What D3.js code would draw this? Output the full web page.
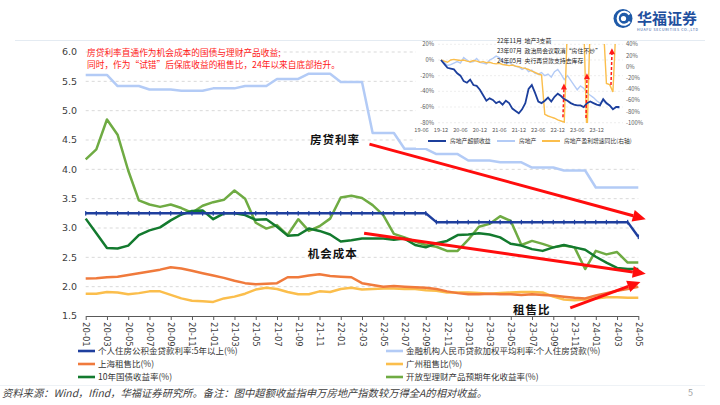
<!DOCTYPE html>
<html><head><meta charset="utf-8">
<script src="https://cdn.jsdelivr.net/npm/d3@7"></script>
<style>
body{margin:0;background:#fff;}
svg{display:block;font-family:"Noto Sans CJK SC","Noto Sans",sans-serif;}
</style></head><body>
<svg id="c" width="720" height="405"></svg>
<script>
// ---------- main chart data ----------
const months = ["20-01","20-02","20-03","20-04","20-05","20-06","20-07","20-08","20-09","20-10","20-11","20-12",
"21-01","21-02","21-03","21-04","21-05","21-06","21-07","21-08","21-09","21-10","21-11","21-12",
"22-01","22-02","22-03","22-04","22-05","22-06","22-07","22-08","22-09","22-10","22-11","22-12",
"23-01","23-02","23-03","23-04","23-05","23-06","23-07","23-08","23-09","23-10","23-11","23-12",
"24-01","24-02","24-03","24-04","24-05"];
const yTicks = [1.5,2.0,2.5,3.0,3.5,4.0,4.5,5.0,5.5,6.0];

const gjjRate = [3.25,3.25,3.25,3.25,3.25,3.25,3.25,3.25,3.25,3.25,3.25,3.25,3.25,3.25,3.25,3.25,3.25,3.25,3.25,3.25,3.25,3.25,3.25,3.25,3.25,3.25,3.25,3.25,3.25,3.25,3.25,3.25,3.25,
3.1,3.1,3.1,3.1,3.1,3.1,3.1,3.1,3.1,3.1,3.1,3.1,3.1,3.1,3.1,3.1,3.1,3.1,3.1,2.85];
const mortgageRate = [5.61,5.61,5.61,5.42,5.42,5.42,5.36,5.36,5.36,5.34,5.34,5.34,5.38,5.38,5.38,5.42,5.42,5.42,
5.54,5.54,5.54,5.63,5.63,5.63,5.49,5.49,5.49,4.62,4.62,4.62,4.35,4.35,4.35,4.26,4.26,4.26,4.15,4.15,4.15,
4.12,4.12,4.12,4.03,4.03,4.03,3.98,3.98,3.98,3.69,3.69,3.69,3.69,3.69];
const shRatio = [2.14,2.145,2.16,2.17,2.20,2.23,2.26,2.29,2.33,2.31,2.27,2.23,2.19,2.15,2.10,2.06,2.04,2.05,2.06,2.16,2.16,2.19,2.21,2.18,2.17,2.16,2.06,2.03,2.00,
2.01,2.00,1.99,1.98,1.96,1.92,1.89,1.87,1.87,1.88,1.87,1.87,1.86,1.87,1.86,1.85,1.83,1.81,1.80,1.85,1.89,1.93,1.96,2.00];
const gzRatio = [1.88,1.88,1.91,1.90,1.87,1.89,1.92,1.92,1.86,1.80,1.76,1.75,1.74,1.80,1.83,1.88,1.95,1.98,1.96,1.91,1.87,1.87,1.92,1.91,1.96,1.98,1.95,1.96,1.97,
1.97,1.96,1.96,1.94,1.93,1.90,1.90,1.90,1.89,1.88,1.89,1.90,1.91,1.91,1.90,1.83,1.78,1.77,1.78,1.80,1.82,1.82,1.81,1.81];
const cgb10y = [3.16,2.91,2.66,2.65,2.70,2.88,2.96,3.01,3.13,3.23,3.29,3.30,3.15,3.25,3.25,3.22,3.14,3.15,3.02,2.87,2.88,2.99,2.95,2.89,2.77,2.79,
2.82,2.82,2.82,2.80,2.82,2.71,2.67,2.74,2.78,2.88,2.89,2.91,2.89,2.84,2.73,2.70,2.64,2.61,2.67,2.71,2.67,2.63,2.51,2.41,2.32,2.30,2.30];
const wmpYield = [4.17,4.34,4.85,4.59,3.98,3.47,3.40,3.36,3.40,3.34,3.26,3.38,3.44,3.48,3.64,3.50,3.09,2.99,3.05,2.88,3.15,2.95,3.03,3.16,3.52,3.55,3.51,3.39,3.22,
2.90,2.84,2.77,2.71,2.68,2.61,2.61,2.80,3.02,3.07,3.20,3.12,2.71,2.78,2.73,2.67,2.70,2.67,2.30,2.61,2.55,2.59,2.41,2.41];

const seriesNames = ["个人住房公积金贷款利率:5年以上(%)","上海租售比(%)","10年国债收益率(%)",
"金融机构人民币贷款加权平均利率:个人住房贷款(%)","广州租售比(%)","开放型理财产品预期年化收益率(%)"];
const seriesColors = ["#1f3f9e","#f07a3c","#137a2e","#b3cbf6","#fbbe4c","#6fab43"];

// annotation arrows (month index, value)
const trendArrows = [[26.7,4.43,52.7,3.15],[26.2,2.91,52.7,2.22],[45.6,1.64,52.2,2.08]];
const trendLabels = [["房贷利率",21.1,4.5],["机会成本",20.9,2.55],["租售比",40.2,1.60]];
const noteLines = ["房贷利率直通作为机会成本的国债与理财产品收益;","同时，作为“试错”后保底收益的租售比，24年以来自底部抬升。"];

// ---------- inset data (months since 2019-12) ----------
const insetTickLabels = ["19-06","19-12","20-06","20-12","21-06","21-12","22-06","22-12","23-06","23-12"];
const insetTickMonths = [-6,0,6,12,18,24,30,36,42,48];
const insetLeftTicks = [20,0,-20,-40,-60,-80];
const insetRightTicks = [40,20,0,-20,-40,-60,-80,-100];
const excessRet = [0,-5,-10,-11,-12,-17,-20,-27,-29,-25,-32,-33,-38,-45,-52,-49,-51,-55,-53,-57,-52,-55,-62,-65,-68,-63,-55,-37,-32,-42,-53,-55,-52,-48,-53,-47,-43,-46,-50,-52,-55,-57,-58,-58,-60,-55,-53,-55,-57,-58,-50,-55,-58,-63,-60,-60];
const realEstate = [0,-3,-7,-6,-4,-2,-4,3,0,-3,-2,2,-3,-4,-5,0,2,5,3,-2,-5,-3,-6,-8,-9,-12,-10,-15,-13,-17,-18,-16,-20,-18,-22,-15,-12,-18,-25,-20,-26,-32,-38,-33,-36,-42,-45,-48,-52,-55,-52,-56,-58,-62,-60,-62];
const profitYoY = [12,10,8,12,13,12,11,12,10,9,11,10,8,9,7,8,6,5,6,4,3,2,3,1,0,-2,-3,-5,-8,-10,-13,-15,-85,-88,-90,-92,-95,-97,-99,80,80,80,80,80,80,-130,80,80,80,80,80,-30,-32,-45,80,80];
const insetNames = ["房地产超额收益","房地产","房地产盈利增速同比(右轴)"];
const insetColors = ["#1c3f9c","#b3cbf6","#fbbe4c"];
const insetNotes = ["22年11月  地产3支箭","23年07月  政治局会议取消“房住不炒”","24年05月  央行再贷款支持去库存"];
const insetArrows = [[37.6,-73,37.9,-30],[44.7,-74,45.0,-17],[52.4,-32,52.7,15]];

// ---------- drawing ----------
const svg = d3.select("#c");
const x = d3.scaleLinear().domain([0, months.length-1]).range([85.7, 638.3]);
const y = d3.scaleLinear().domain([1.5, 6.0]).range([316, 52]);

// header
svg.append("line").attr("x1",15).attr("x2",705).attr("y1",40.5).attr("y2",40.5).attr("stroke","#e4ebf2").attr("stroke-width",1);
const logo = svg.append("g");
logo.append("circle").attr("cx",623).attr("cy",18.5).attr("r",9.5).attr("fill","#1f5aa8");
logo.append("path").attr("d","M629.5,14.5 A6.5,6.5 0 1 0 629.8,21.5").attr("fill","none").attr("stroke","#fff").attr("stroke-width",2.2);
logo.append("circle").attr("cx",623.5).attr("cy",18.5).attr("r",2.6).attr("fill","#fff");
svg.append("text").attr("x",637).attr("y",24).attr("font-size",15).attr("font-weight",700).attr("fill","#1f4f9e").text("华福证券");
svg.append("text").attr("x",637).attr("y",30.5).attr("font-size",3.6).attr("fill","#1f4f9e").attr("textLength",61).text("HUAFU SECURITIES CO.,LTD");

// gridlines
svg.append("g").selectAll("line").data(yTicks.filter(d=>d>1.5)).join("line")
  .attr("x1",x(0)).attr("x2",x(months.length-1)).attr("y1",d=>y(d)).attr("y2",d=>y(d))
  .attr("stroke","#d9d9d9").attr("stroke-width",1).attr("stroke-dasharray","3,3");

// y labels
svg.append("g").selectAll("text").data(yTicks).join("text")
  .attr("x",77).attr("y",d=>y(d)).attr("dy","0.35em").attr("text-anchor","end")
  .attr("font-size",9.5).attr("fill","#404040").attr("font-family","'DejaVu Sans',sans-serif")
  .text(d=>d.toFixed(1));

// x axis
const xAxis = d3.axisBottom(x).tickValues(d3.range(0, months.length, 2)).tickFormat(i=>months[i]).tickSize(4).tickSizeOuter(0);
const gx = svg.append("g").attr("transform",`translate(0,${y(1.5)})`).call(xAxis);
gx.select(".domain").attr("stroke","#595959");
gx.selectAll(".tick line").attr("stroke","#595959");
gx.selectAll(".tick text").attr("transform","rotate(90)").attr("x",6).attr("y",0).attr("dy","0.35em")
  .style("text-anchor","start").attr("font-size",8.5).attr("fill","#404040").attr("font-family","'DejaVu Sans',sans-serif");

// lines
const line = d3.line().x((d,i)=>x(i)).y(d=>y(d));
const allSeries = [mortgageRate, gzRatio, shRatio, wmpYield, cgb10y, gjjRate];
const allColors = [seriesColors[3], seriesColors[4], seriesColors[1], seriesColors[5], seriesColors[2], seriesColors[0]];
allSeries.forEach((s,k)=>{
  svg.append("path").datum(s).attr("d",line).attr("fill","none").attr("stroke",allColors[k])
    .attr("stroke-width",2.5).attr("stroke-linejoin","round");
});
svg.append("g").selectAll("rect").data(gjjRate).join("rect")
  .attr("x",(d,i)=>x(i)-0.6).attr("y",d=>y(d)-2.3).attr("width",1.2).attr("height",4.6).attr("fill",seriesColors[0]);

// note text
svg.append("g").selectAll("text").data(noteLines).join("text")
  .attr("x",87).attr("y",(d,i)=>55.5+i*12).attr("font-size",8.7).attr("fill","#ff2020").text(d=>d);

// inset
const inset = svg.append("g");
inset.append("rect").attr("x",416).attr("y",42).attr("width",228).attr("height",106).attr("fill","#fff");
const ix = d3.scaleLinear().domain([-6,48]).range([421.5,596.7]);
const iyL = d3.scaleLinear().domain([-80,20]).range([122.7,44.3]);
const iyR = d3.scaleLinear().domain([-100,40]).range([122.7,44.3]);
inset.append("g").selectAll("line").data(insetLeftTicks).join("line")
  .attr("x1",438).attr("x2",623).attr("y1",d=>iyL(d)).attr("y2",d=>iyL(d))
  .attr("stroke","#e2e2e2").attr("stroke-width",0.6).attr("stroke-dasharray","2,2");
inset.append("g").selectAll("text").data(insetLeftTicks).join("text")
  .attr("x",434).attr("y",d=>iyL(d)).attr("dy","0.35em").attr("text-anchor","end")
  .attr("font-size",5.8).attr("fill","#595959").text(d=>d+"%");
inset.append("g").selectAll("text").data(insetRightTicks).join("text")
  .attr("x",626).attr("y",d=>iyR(d)).attr("dy","0.35em").attr("text-anchor","start")
  .attr("font-size",5.8).attr("fill","#595959").text(d=>d+"%");
inset.append("g").selectAll("text").data(insetTickLabels).join("text")
  .attr("x",(d,i)=>ix(insetTickMonths[i])).attr("y",131.5).attr("text-anchor","middle")
  .attr("font-size",5.6).attr("fill","#595959").text(d=>d);
svg.append("defs").append("clipPath").attr("id","ic").append("rect").attr("x",436).attr("y",44).attr("width",190).attr("height",79);
const ilineL = d3.line().x((d,i)=>ix(i)).y(d=>iyL(d));
const ilineR = d3.line().x((d,i)=>ix(i)).y(d=>iyR(d));
const ip = inset.append("g").attr("clip-path","url(#ic)");
ip.append("path").datum(realEstate).attr("d",ilineL).attr("fill","none").attr("stroke",insetColors[1]).attr("stroke-width",1.4);
ip.append("path").datum(profitYoY).attr("d",ilineR).attr("fill","none").attr("stroke",insetColors[2]).attr("stroke-width",1.4);
ip.append("path").datum(excessRet).attr("d",ilineL).attr("fill","none").attr("stroke",insetColors[0]).attr("stroke-width",1.8);
// inset notes
inset.append("g").selectAll("text").data(insetNotes).join("text")
  .attr("x",497).attr("y",(d,i)=>43+i*10).attr("font-size",5.9).attr("fill","#222")
  .attr("xml:space","preserve").style("white-space","pre").text(d=>d);
// inset dashed arrows
insetArrows.forEach(a=>{
  const x0=ix(a[0]), y0=iyL(a[1]), x1=ix(a[2]), y1=iyL(a[3]);
  inset.append("line").attr("x1",x0).attr("y1",y0).attr("x2",x1).attr("y2",y1+5)
    .attr("stroke","#ff1a1a").attr("stroke-width",1.5).attr("stroke-dasharray","3,2");
  inset.append("path").attr("d",`M${x1},${y1} L${x1-3},${y1+6} L${x1+3},${y1+6} Z`).attr("fill","#ff1a1a");
});
// inset legend
const ilg = [[428,450],[497,519],[542,564]];
ilg.forEach((p,i)=>{
  inset.append("line").attr("x1",p[0]).attr("x2",p[0]+18).attr("y1",141).attr("y2",141).attr("stroke",insetColors[i]).attr("stroke-width",2);
  inset.append("text").attr("x",p[1]).attr("y",141).attr("dy","0.35em").attr("font-size",5.8).attr("fill","#333").text(insetNames[i]);
});

// trend arrows
trendArrows.forEach(a=>{
  const x0=x(a[0]), y0=y(a[1]), x1=x(a[2]), y1=y(a[3]);
  const dx=x1-x0, dy=y1-y0, L=Math.hypot(dx,dy), ux=dx/L, uy=dy/L, nx=-uy, ny=ux;
  const bx=x1-ux*13, by=y1-uy*13;
  svg.append("line").attr("x1",x0).attr("y1",y0).attr("x2",bx).attr("y2",by).attr("stroke","#ff0d0d").attr("stroke-width",3);
  svg.append("path").attr("d",`M${x1},${y1} L${bx+nx*6},${by+ny*6} L${bx-nx*6},${by-ny*6} Z`).attr("fill","#ff0d0d");
});
svg.append("g").selectAll("text").data(trendLabels).join("text")
  .attr("x",d=>x(d[1])).attr("y",d=>y(d[2])).attr("dy","0.35em")
  .attr("font-size",11.5).attr("font-weight",700).attr("letter-spacing",1).attr("fill","#111").text(d=>d[0]);

// legend
const legPos = [[78,98,351],[78,98,364],[78,98,377],[386,406,351],[386,406,364],[386,406,377]];
legPos.forEach((p,i)=>{
  svg.append("line").attr("x1",p[0]).attr("x2",p[0]+17).attr("y1",p[2]).attr("y2",p[2]).attr("stroke",seriesColors[i]).attr("stroke-width",2.6);
  svg.append("text").attr("x",p[1]).attr("y",p[2]).attr("dy","0.35em").attr("font-size",8.5).attr("fill","#333").text(seriesNames[i]);
});

// footer
svg.append("line").attr("x1",0).attr("x2",705).attr("y1",385.5).attr("y2",385.5).attr("stroke","#eef2f6");
svg.append("text").attr("x",2).attr("y",397).attr("font-size",10.3).attr("font-style","italic").attr("fill","#404040")
  .text("资料来源：Wind，Ifind，华福证券研究所。备注：图中超额收益指申万房地产指数较万得全A的相对收益。");
svg.append("text").attr("x",688).attr("y",396).attr("font-size",9).attr("fill","#a0a0a0").text("5");
</script>
</body></html>
